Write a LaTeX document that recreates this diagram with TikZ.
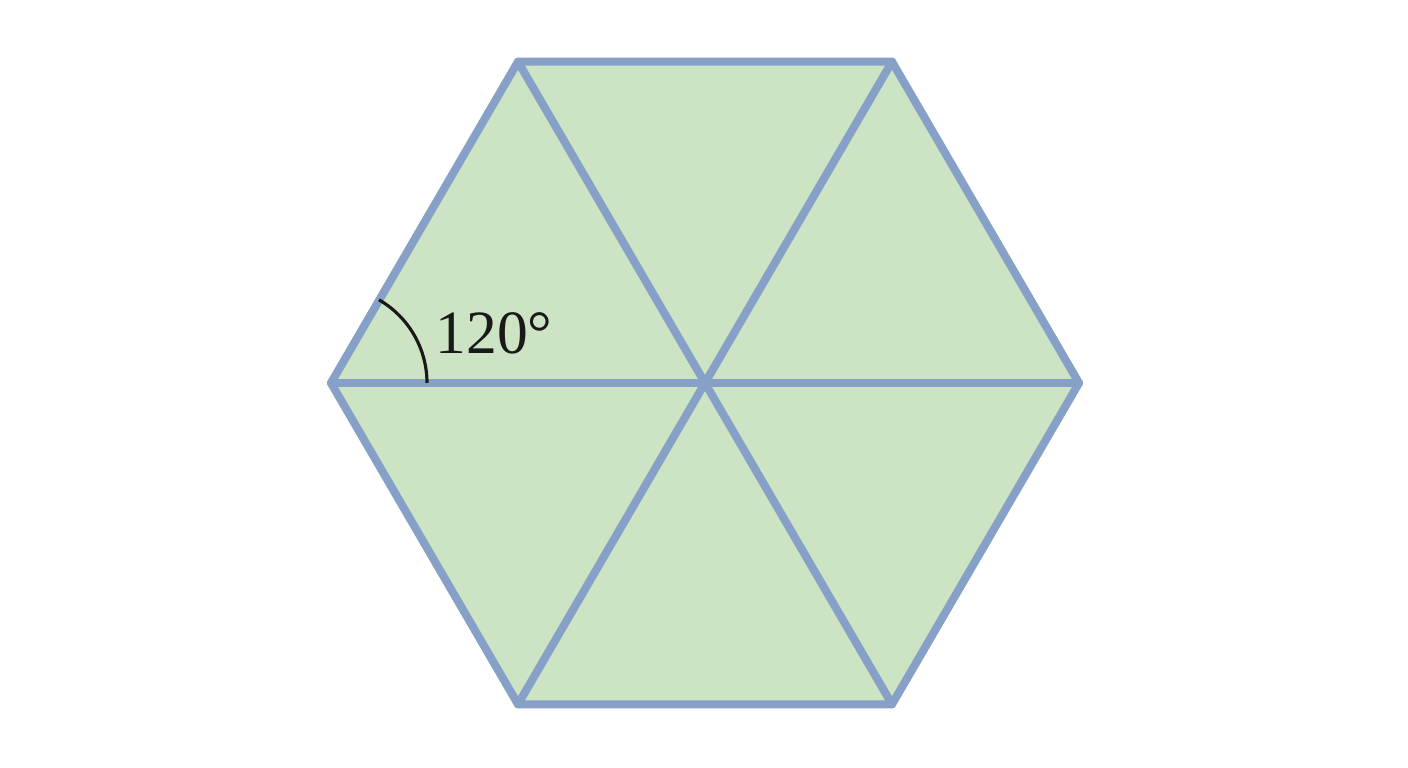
\documentclass[tikz,border=0pt]{standalone}
\usepackage{fontspec}
\setmainfont{Liberation Serif}
\usetikzlibrary{calc}
\definecolor{edgeblue}{RGB}{134,160,200}
\definecolor{facegreen}{RGB}{204,228,196}

\begin{document}
\begin{tikzpicture}
  \useasboundingbox (-7.05,-3.85) rectangle (7.03,3.83);
  \tikzset{hexedge/.style={line width=2.3pt, draw=edgeblue, line join=round, line cap=round}}
  % vertices of the hexagon
  \foreach \a/\n in {0/R,60/TR,120/TL,180/L,240/BL,300/BR}
    \coordinate (\n) at ({3.74*cos(\a)},{3.71*sin(\a)});
  \coordinate (O) at (0,0);
  \fill[facegreen] (R) -- (TR) -- (TL) -- (L) -- (BL) -- (BR) -- cycle;
  \draw[hexedge] (R) -- (TR) -- (TL) -- (L) -- (BL) -- (BR) -- cycle;
  \draw[hexedge] (L) -- (R);
  \draw[hexedge] (TL) -- (BR);
  \draw[hexedge] (TR) -- (BL);
  % angle mark
  \draw[line width=0.9pt, black!90] ($(L)+(0.96,0)$) arc (0:60:0.96);
  \node[anchor=base west, inner sep=0pt, font=\fontsize{17.5}{21}\selectfont, text=black!90]
    (ang) at (-2.70,0.29) {120°};
\end{tikzpicture}
\end{document}
